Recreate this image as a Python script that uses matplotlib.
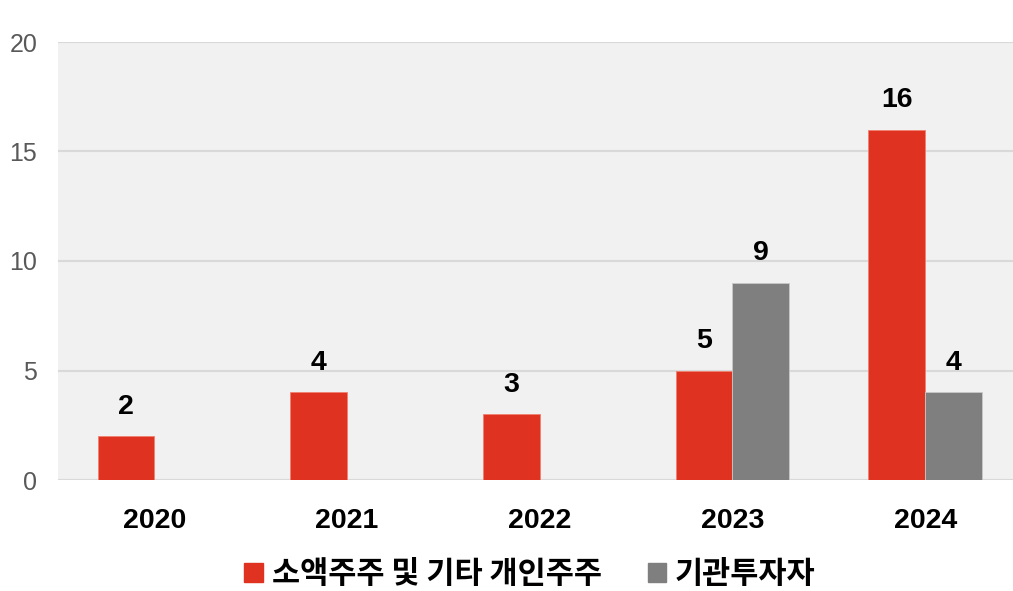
import matplotlib.pyplot as plt
import numpy as np

years = ['2020', '2021', '2022', '2023', '2024']
retail = [2, 4, 3, 5, 16]          # 소액주주 및 기타 개인주주
institution = [0, 0, 0, 9, 4]      # 기관투자자
yticks = [0, 5, 10, 15, 20]

red = '#e03220'
gray = '#7f7f7f'

fig = plt.figure(figsize=(10.13, 5.91), dpi=100)
# axes runs past the right edge, like the source image
ax = fig.add_axes([58 / 1013, 1 - 480 / 591, 963.5 / 1013, 438 / 591])
ax.set_facecolor('#f1f1f1')

x = np.arange(len(years))
w = 0.295
ax.bar(x - w / 2, retail, width=w, color=red, edgecolor='#f08070', linewidth=0.6, zorder=3)
inst_x = [xi + w / 2 for xi, v in zip(x, institution) if v > 0]
inst_v = [v for v in institution if v > 0]
ax.bar(inst_x, inst_v, width=w, color=gray, edgecolor='#c8c8c8', linewidth=0.6, zorder=3)

lab_font = dict(family='Liberation Sans', weight='bold', size=20.5)
for xi, v in zip(x, retail):
    ax.text(xi - w / 2, v + 0.75, str(v), ha='center', va='bottom', **lab_font)
for xi, v in zip(inst_x, inst_v):
    ax.text(xi, v + 0.75, str(v), ha='center', va='bottom', **lab_font)

ax.set_xlim(-0.5, 4.5)
ax.set_ylim(0, 20)
ax.set_yticks(yticks)
ax.set_yticklabels([str(t) for t in yticks], family='Liberation Sans', size=18, color='#595959')
ax.set_xticks(x)
ax.set_xticklabels(years, family='Liberation Sans', weight='bold', size=20.5)
ax.tick_params(axis='both', length=0)
ax.tick_params(axis='y', pad=15)
ax.tick_params(axis='x', pad=20)
ax.grid(axis='y', color='#d9d9d9', linewidth=1.5, zorder=0)
ax.set_axisbelow(True)
for s in ax.spines.values():
    s.set_visible(False)

handles = [plt.Rectangle((0, 0), 1, 1, color=red), plt.Rectangle((0, 0), 1, 1, color=gray)]
fig.legend(handles, ['소액주주 및 기타 개인주주', '기관투자자'],
           loc='center', bbox_to_anchor=(530 / 1013, 1 - 574 / 591),
           ncol=2, frameon=False, handlelength=0.6, handleheight=0.6,
           handletextpad=0.3, columnspacing=1.5, borderpad=0.1,
           prop=dict(family='Noto Sans CJK KR', weight='bold', size=22))

fig.savefig('out.png', dpi=100)
